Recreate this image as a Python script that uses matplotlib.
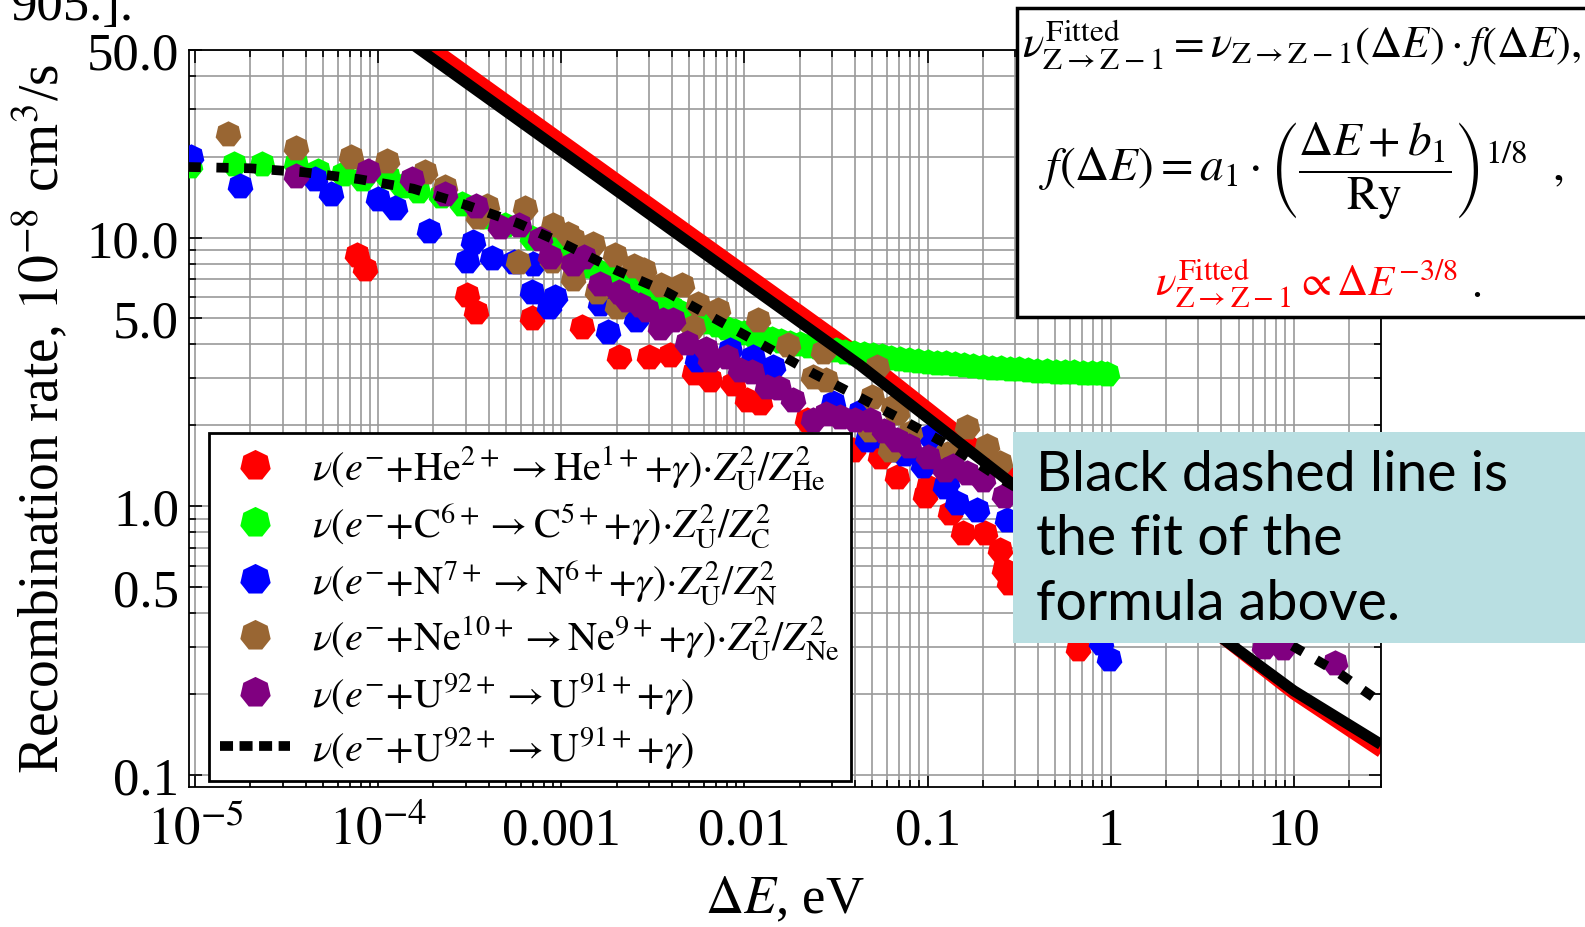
import matplotlib
matplotlib.use("Agg")
import matplotlib.pyplot as plt
from matplotlib.ticker import FixedLocator, NullFormatter
from matplotlib.lines import Line2D
from matplotlib.patches import Rectangle

plt.rcParams['font.family'] = ['Liberation Serif', 'DejaVu Serif']
plt.rcParams['mathtext.fontset'] = 'stix'

# recombination rates (1e-8 cm^3/s) vs. energy offset dE (eV)
he_x = [7.6e-5, 8.4e-5, 3.03e-4, 3.4e-4, 6.9e-4, 1.29e-3, 2.05e-3, 3.0e-3, 3.9e-3,
        5.3e-3, 6.5e-3, 8.7e-3, 0.0103, 0.0122, 0.0219, 0.0394, 0.055, 0.068,
        0.097, 0.1, 0.133, 0.157, 0.206, 0.249, 0.26, 0.28, 0.66]
he_y = [8.58, 7.66, 6.1, 5.28, 5.0, 4.65, 3.6, 3.6, 3.65,
        3.12, 2.94, 2.86, 2.48, 2.42, 2.09, 1.62, 1.53, 1.29,
        1.09, 1.18, 0.944, 0.795, 0.795, 0.69, 0.58, 0.52, 0.294]

c_x = [9.3e-6, 1.63e-5, 2.32e-5, 3.57e-5, 4.7e-5, 6.4e-5, 8.1e-5, 1.13e-4, 1.34e-4,
       1.65e-4, 2.2e-4, 2.85e-4, 3.8e-4, 4.9e-4, 6.9e-4, 8.8e-4,
       1.0e-3, 1.12e-3, 1.26e-3, 1.41e-3, 1.58e-3, 1.78e-3, 2.0e-3, 2.24e-3, 2.51e-3,
       2.82e-3, 3.16e-3, 3.55e-3, 3.98e-3, 4.47e-3, 5.01e-3, 5.62e-3, 6.31e-3, 7.08e-3,
       7.94e-3, 8.91e-3, 0.01, 0.0112, 0.0126, 0.0141, 0.0158, 0.0178, 0.02, 0.0224,
       0.0251, 0.0282, 0.0316, 0.0355, 0.0398, 0.0447, 0.0501, 0.0562, 0.0631, 0.0708,
       0.0794, 0.0891, 0.1, 0.112, 0.126, 0.141, 0.158, 0.178, 0.2, 0.224, 0.251,
       0.282, 0.316, 0.355, 0.398, 0.447, 0.501, 0.562, 0.631, 0.708, 0.794, 0.891, 0.95]
c_y = [18.5, 18.7, 18.7, 18.8, 17.7, 17.2, 16.5, 16.8, 15.6,
       14.9, 14.3, 13.3, 11.9, 11.1, 10.0, 9.3,
       8.9, 8.55, 8.2, 7.85, 7.5, 7.2, 6.9, 6.6, 6.35,
       6.1, 5.9, 5.7, 5.5, 5.3, 5.15, 5.0, 4.85, 4.72,
       4.6, 4.5, 4.42, 4.34, 4.27, 4.2, 4.13, 4.06, 4.0, 3.95,
       3.9, 3.85, 3.8, 3.76, 3.72, 3.68, 3.65, 3.61, 3.57, 3.54,
       3.5, 3.47, 3.45, 3.42, 3.4, 3.37, 3.35, 3.32, 3.3, 3.28, 3.26,
       3.24, 3.23, 3.21, 3.2, 3.18, 3.17, 3.16, 3.15, 3.14, 3.13, 3.12, 3.11]

n_x = [9.5e-6, 1.75e-5, 4.5e-5, 5.5e-5, 9.9e-5, 1.23e-4, 1.9e-4, 3.3e-4, 3.03e-4,
       4.16e-4, 5.5e-4, 7.0e-4, 6.9e-4, 9.2e-4, 8.5e-4, 1.62e-3, 1.8e-3, 2.57e-3,
       5.48e-3, 8.3e-3, 0.0112, 0.0144, 0.0305, 0.0428, 0.0466, 0.055, 0.068, 0.074,
       0.095, 0.103, 0.125, 0.127, 0.145, 0.186, 0.271, 0.89, 0.98]
n_y = [19.9, 15.5, 16.5, 14.5, 13.9, 12.9, 10.6, 9.6, 8.2,
       8.4, 8.1, 8.0, 6.27, 6.0, 5.5, 5.68, 4.45, 4.92,
       3.5, 3.8, 3.6, 3.3, 2.42, 2.25, 1.77, 1.82, 1.62, 1.57,
       1.41, 1.82, 1.18, 1.22, 1.03, 0.97, 0.89, 0.31, 0.27]

ne_x = [1.5e-5, 3.57e-5, 7.1e-5, 1.11e-4, 1.8e-4, 2.3e-4, 3.5e-4, 3.9e-4, 5.8e-4,
        6.3e-4, 8.9e-4, 9.0e-4, 1.09e-3, 1.16e-3, 1.16e-3, 1.49e-3, 1.56e-3, 1.95e-3,
        2.0e-3, 2.5e-3, 2.83e-3, 3.5e-3, 4.54e-3, 5.2e-3, 5.6e-3, 7.2e-3, 0.0118,
        0.0173, 0.0238, 0.027, 0.028, 0.0485, 0.0495, 0.0527, 0.0624, 0.065, 0.068,
        0.08, 0.127, 0.164, 0.21, 0.25]
ne_y = [24.3, 21.6, 20.0, 19.3, 17.5, 15.4, 11.9, 13.1, 8.1,
        12.9, 8.2, 11.1, 10.3, 9.9, 7.03, 9.46, 6.27, 8.58,
        5.51, 7.87, 7.55, 6.64, 6.64, 4.65, 5.68, 5.36, 4.92,
        3.98, 3.03, 3.75, 2.94, 1.92, 2.55, 3.3, 1.62, 2.34, 2.22,
        1.87, 1.57, 1.98, 1.67, 1.45]

u_x = [3.57e-5, 8.8e-5, 1.52e-4, 2.3e-4, 3.4e-4, 4.6e-4, 5.9e-4, 7.6e-4, 8.7e-4,
       1.16e-3, 1.32e-3, 1.62e-3, 2.05e-3, 2.27e-3, 2.68e-3, 2.92e-3, 3.45e-3, 3.6e-3,
       4.08e-3, 4.83e-3, 6.2e-3, 6.5e-3, 8.0e-3, 9.4e-3, 0.011, 0.0132, 0.0155, 0.0185,
       0.0238, 0.028, 0.0333, 0.04, 0.0485, 0.058, 0.068, 0.079, 0.1, 0.125, 0.138,
       0.165, 0.2, 0.26, 6.9, 8.8, 16.9]
u_y = [17.0, 17.7, 16.5, 14.5, 13.1, 10.9, 11.1, 9.9, 8.45,
       8.0, 8.45, 6.7, 6.27, 5.84, 5.6, 5.36, 4.6, 4.92,
       4.92, 4.04, 3.86, 3.5, 3.6, 3.21, 3.15, 2.79, 2.75, 2.48,
       2.09, 2.2, 2.15, 2.1, 2.09, 1.9, 1.77, 1.67, 1.53, 1.37, 1.41,
       1.33, 1.25, 1.09, 0.30, 0.298, 0.262]

# fitted formula (dashed) and the two straight reference curves
fit_x = [9.2e-6, 1.99e-5, 3.9e-5, 7.8e-5, 1.55e-4, 3.03e-4, 5.8e-4, 1.09e-3, 2.0e-3,
         3.76e-3, 6.9e-3, 0.0127, 0.0238, 0.0437, 0.0786, 0.145, 0.26, 1.0, 3.0,
         9.57, 17.6, 30.0]
fit_y = [18.3, 18.1, 17.5, 16.5, 15.2, 13.2, 11.3, 9.3, 7.55,
         6.27, 4.99, 3.97, 3.12, 2.52, 2.04, 1.62, 1.25, 0.74, 0.48,
         0.306, 0.24, 0.186]
kr_x = [1e-4, 0.0428, 0.282, 10.0, 30.0]
kr_black_y = [64.6, 3.35, 1.23, 0.206, 0.130]
kr_red_y = [71.6, 3.70, 1.34, 0.200, 0.1216]

labels = [
    r'$\nu(e^{-}{+}\mathrm{He}^{2+}\rightarrow\mathrm{He}^{1+}{+}\gamma){\cdot}Z_{\mathrm{U}}^{2}/Z_{\mathrm{He}}^{2}$',
    r'$\nu(e^{-}{+}\mathrm{C}^{6+}\rightarrow\mathrm{C}^{5+}{+}\gamma){\cdot}Z_{\mathrm{U}}^{2}/Z_{\mathrm{C}}^{2}$',
    r'$\nu(e^{-}{+}\mathrm{N}^{7+}\rightarrow\mathrm{N}^{6+}{+}\gamma){\cdot}Z_{\mathrm{U}}^{2}/Z_{\mathrm{N}}^{2}$',
    r'$\nu(e^{-}{+}\mathrm{Ne}^{10+}\rightarrow\mathrm{Ne}^{9+}{+}\gamma){\cdot}Z_{\mathrm{U}}^{2}/Z_{\mathrm{Ne}}^{2}$',
    r'$\nu(e^{-}{+}\mathrm{U}^{92+}\rightarrow\mathrm{U}^{91+}{+}\gamma)$',
    r'$\nu(e^{-}{+}\mathrm{U}^{92+}\rightarrow\mathrm{U}^{91+}{+}\gamma)$',
]
colors = ['#ff0000', '#00ff00', '#0000ff', '#996633', '#800080']

fig = plt.figure(figsize=(15.85, 9.28), dpi=100)
ax = fig.add_axes([0.11905, 0.15119, 0.75224, 0.79418])
ax.set_xscale('log')
ax.set_yscale('log')

heptagon = (7, 0, 0)
handles = []
ax.plot(kr_x, kr_red_y, color='#ff0000', lw=8, solid_capstyle='butt', zorder=2)
for (xs, ys), col in zip([(he_x, he_y), (c_x, c_y), (n_x, n_y), (ne_x, ne_y), (u_x, u_y)], colors):
    h, = ax.plot(xs, ys, ls='none', marker=heptagon, ms=19, mew=0, color=col, zorder=3)
    handles.append(h)
ax.plot(kr_x, kr_black_y, color='black', lw=8, solid_capstyle='butt', zorder=4)
ax.plot(fit_x, fit_y, color='black', lw=7, ls=(0, (1.25, 1.6)), dash_capstyle='butt', zorder=5)
handles.append(Line2D([], [], color='black', lw=7, ls=(0, (1.34, 0.67)), dash_capstyle='butt'))

ax.set_xlim(9.2e-6, 30)
ax.set_ylim(0.0905, 50.0)

xmaj = [1e-5, 1e-4, 1e-3, 1e-2, 1e-1, 1, 10]
ax.xaxis.set_major_locator(FixedLocator(xmaj))
ax.xaxis.set_minor_locator(FixedLocator([m * 10.0 ** k for k in range(-5, 2) for m in range(2, 10)]))
ax.set_xticklabels([r'$10^{-5}$', r'$10^{-4}$', '0.001', '0.01', '0.1', '1', '10'], va='baseline')
ax.xaxis.set_minor_formatter(NullFormatter())

ymaj = [0.1, 0.5, 1, 5, 10, 50]
ax.yaxis.set_major_locator(FixedLocator(ymaj))
ymin = [m * 10.0 ** k for k in range(-1, 2) for m in range(1, 10)]
ax.yaxis.set_minor_locator(FixedLocator([v for v in ymin if v not in ymaj]))
ax.set_yticklabels(['0.1', '0.5', '1.0', '5.0', '10.0', '50.0'])
ax.yaxis.set_minor_formatter(NullFormatter())

ax.grid(True, which='both', color='#9a9a9a', lw=1.2)
ax.set_axisbelow(True)
ax.tick_params(which='both', direction='in', top=True, right=True, width=1.2, labelsize=38)
ax.tick_params(which='major', length=9)
ax.tick_params(which='minor', length=5)
ax.tick_params(axis='x', pad=41)
ax.tick_params(axis='y', pad=7)
for s in ax.spines.values():
    s.set_linewidth(1.3)

ax.set_ylabel(r'Recombination rate, $10^{-8}$ cm$^3$/s', fontsize=40)
ax.yaxis.set_label_coords(-0.099, 0.5)
ax.set_xlabel(r'$\Delta E$, eV', fontsize=38)
ax.xaxis.set_label_coords(0.5, -0.118)

leg = ax.legend(handles, labels, loc='upper left', bbox_to_anchor=(0.017, 0.48),
                borderaxespad=0, fontsize=29, frameon=True, fancybox=False,
                edgecolor='black', framealpha=1, borderpad=0.27, labelspacing=0.2,
                handlelength=1.74, handletextpad=0.55, markerscale=1.18)
leg.get_frame().set_linewidth(2)
leg.set_zorder(10)

# leftover text cut by the top edge
fig.text(0.0063, 0.9784, '905.].', fontsize=38, va='baseline')

# formula panel
fig.add_artist(Rectangle((0.6415, 1 - 318 / 928), 0.4, 309 / 928, transform=fig.transFigure,
                         facecolor='white', edgecolor='black', lw=2.5, zorder=20))
fig.text(0.645, 1 - 58 / 928,
         r'$\nu_{\mathrm{Z\rightarrow Z-1}}^{\mathrm{Fitted}}=\nu_{\mathrm{Z\rightarrow Z-1}}\left(\Delta E\right)\cdot f\left(\Delta E\right),$',
         fontsize=32, va='baseline', ha='left', zorder=21)
fig.text(0.821, 1 - 171 / 928,
         r'$f\left(\Delta E\right)=a_1\cdot\left(\dfrac{\Delta E+b_1}{\mathrm{Ry}}\right)^{1/8}\ \ ,$',
         fontsize=34, va='center', ha='center', zorder=21)
fig.text(0.7287, 1 - 297 / 928,
         r'$\nu_{\mathrm{Z\rightarrow Z-1}}^{\mathrm{Fitted}}\propto\Delta E^{-3/8}$',
         fontsize=31, va='baseline', ha='left', color='#ff0000', zorder=21)
fig.text(0.928, 1 - 297 / 928, '.', fontsize=32, va='baseline', ha='left', zorder=21)

# note panel
fig.add_artist(Rectangle((1013 / 1585, 1 - 644 / 928), 0.4, 211 / 928, transform=fig.transFigure,
                         facecolor='#b9dfe2', edgecolor='none', zorder=20))
for line, base in zip(['Black dashed line is', 'the fit of the', 'formula above.'], [491, 555, 620]):
    fig.text(1036 / 1585, 1 - base / 928, line, fontsize=40, family='Lato',
             va='baseline', ha='left', zorder=21)

fig.savefig('out.png', dpi=100)
